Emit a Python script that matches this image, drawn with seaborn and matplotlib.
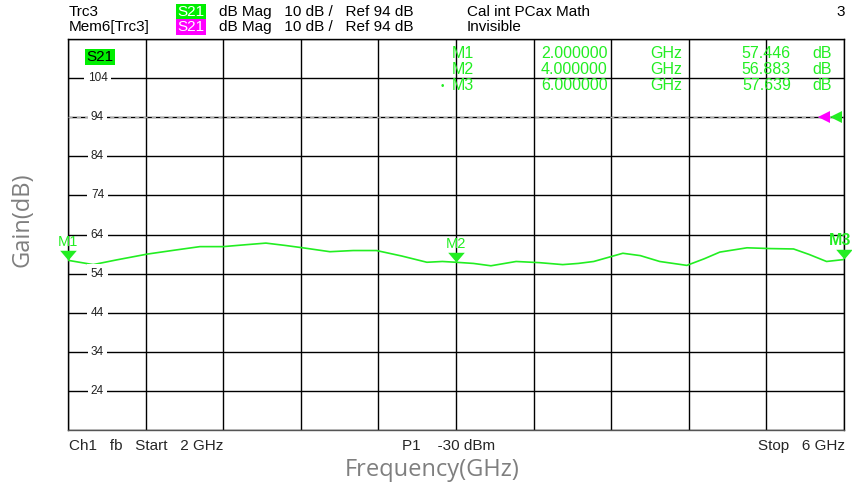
import matplotlib.pyplot as plt
import matplotlib.transforms as mtransforms
import numpy as np
import pandas as pd
import seaborn as sns

sns.set_theme(style="white")
plt.rcParams['font.family'] = ['Liberation Sans', 'DejaVu Sans']

# trace
freq = [2.00, 2.13, 2.25, 2.41, 2.55, 2.68, 2.80, 2.92, 3.02, 3.12, 3.21, 3.35,
        3.47, 3.59, 3.72, 3.85, 3.93, 4.00, 4.09, 4.18, 4.31, 4.43, 4.55, 4.63,
        4.71, 4.86, 4.95, 5.05, 5.19, 5.28, 5.36, 5.50, 5.62, 5.74, 5.82, 5.91, 6.00]
gain = [57.4, 56.3, 57.5, 59.0, 60.0, 60.9, 60.9, 61.4, 61.8, 61.2, 60.6, 59.6,
        59.9, 59.9, 58.5, 56.9, 57.1, 56.9, 56.6, 56.0, 57.1, 56.8, 56.3, 56.6,
        57.1, 59.2, 58.6, 57.1, 56.1, 57.8, 59.5, 60.6, 60.4, 60.3, 58.9, 57.1, 57.6]

marker_names = ['M1', 'M2', 'M3']
marker_freq = [2.0, 4.0, 6.0]
marker_gain = [57.446, 56.883, 57.639]

y_ticks = [24, 34, 44, 54, 64, 74, 84, 94, 104]
ref_level = 94

GREEN = '#22ee22'
MAGENTA = '#ff00ff'

df = pd.DataFrame({'freq': freq, 'gain': gain})

fig = plt.figure(figsize=(8.52, 4.88), dpi=100)
W, H = 852, 488
ax = fig.add_axes([68 / W, 1 - 430 / H, 776 / W, 391 / H])

ax.set_xlim(2, 6)
ax.set_ylim(14, 114)
ax.set_xticks(np.linspace(2, 6, 11))
ax.set_yticks(np.arange(14, 115, 10))
ax.grid(True, color='black', lw=1.0)
ax.tick_params(length=0, labelbottom=False, labelleft=False)
for s in ax.spines.values():
    s.set_color('black')
    s.set_linewidth(1.0)
ax.spines['bottom'].set_color('#555555')

# ref line
ax.axhline(ref_level, color='#aaaaaa', lw=1.0, ls=(0, (3, 3)), zorder=3)

sns.lineplot(data=df, x='freq', y='gain', color=GREEN, lw=1.2, ax=ax, zorder=4)

# y labels drawn inside the grid
trans = mtransforms.blended_transform_factory(ax.transAxes, ax.transData)
for v in y_ticks:
    ax.text(0.038, v, str(v), transform=trans, ha='center', va='center',
            fontsize=8.5, color='#222222',
            bbox=dict(facecolor='white', edgecolor='none', pad=2.5), zorder=5)

# markers
tri = [(-0.85, 1.0), (0.85, 1.0), (0.0, 0.0)]
for name, f, g in zip(marker_names, marker_freq, marker_gain):
    ax.plot(f, g, marker=tri, markersize=14, color=GREEN, clip_on=False, zorder=6,
            markeredgewidth=0)
    bold = name == 'M3'
    ax.annotate(name, (f, g), xytext=(-3 if bold else 0, 8), textcoords='offset points',
                ha='center', va='bottom', color=GREEN,
                fontsize=11.5 if bold else 10.5, fontweight='bold' if bold else 'normal',
                annotation_clip=False, zorder=6)

# ref level arrows on the right
ax.plot([0.974], [ref_level], marker='<', markersize=9, color=MAGENTA,
        transform=trans, clip_on=False, zorder=6, markeredgewidth=0)
ax.plot([0.990], [ref_level], marker='<', markersize=9, color=GREEN,
        transform=trans, clip_on=False, zorder=6, markeredgewidth=0)

# trace tag inside plot
fig.text(86 / W, 1 - 57 / H, 'S21', fontsize=11, color='black', va='center',
         bbox=dict(facecolor='#00ee00', edgecolor='none', pad=1))

# marker table
rows_y = [53, 69, 86]
for name, f, g, y in zip(marker_names, marker_freq, marker_gain, rows_y):
    yy = 1 - y / H
    fig.text(452 / W, yy, name, fontsize=11.5, color=GREEN, va='center')
    fig.text(541 / W, yy, f'{f:.6f}', fontsize=11.5, color=GREEN, va='center')
    fig.text(650 / W, yy, 'GHz', fontsize=11.5, color=GREEN, va='center')
    fig.text(791 / W, yy, f'{g:.3f}', fontsize=11.5, color=GREEN, va='center', ha='right')
    fig.text(812 / W, yy, 'dB', fontsize=11.5, color=GREEN, va='center')
fig.text(441 / W, 1 - 86 / H, '•', fontsize=7, color=GREEN, va='center')


# header lines
def hdr(x, y, s, color='black', **kw):
    fig.text(x / W, 1 - y / H, s, fontsize=11, color=color, va='center', **kw)


hdr(69, 12, 'Trc3')
hdr(177, 12, 'S21', color='white', bbox=dict(facecolor='#00ee00', edgecolor='none', pad=1))
hdr(219, 12, 'dB Mag   10 dB /   Ref 94 dB')
hdr(467, 12, 'Cal int PCax Math')
hdr(845, 12, '3', ha='right')
hdr(69, 27, 'Mem6[Trc3]')
hdr(177, 27, 'S21', color='white', bbox=dict(facecolor=MAGENTA, edgecolor='none', pad=1))
hdr(219, 27, 'dB Mag   10 dB /   Ref 94 dB')
hdr(467, 27, 'Invisible')

# footer
fig.text(69 / W, 1 - 446 / H, 'Ch1   fb   Start   2 GHz', fontsize=11, va='center')
fig.text(402 / W, 1 - 446 / H, 'P1    -30 dBm', fontsize=11, va='center')
fig.text(845 / W, 1 - 446 / H, 'Stop   6 GHz', fontsize=11, va='center', ha='right')

fig.text(432 / W, 1 - 470 / H, 'Frequency(GHz)', fontsize=17, color='#7f7f7f',
         ha='center', va='center', family=['Open Sans', 'DejaVu Sans'])
fig.text(22 / W, 1 - 220 / H, 'Gain(dB)', fontsize=17, color='#7f7f7f',
         ha='center', va='center', rotation=90, family=['Open Sans', 'DejaVu Sans'])

fig.savefig('out.png', dpi=100)
